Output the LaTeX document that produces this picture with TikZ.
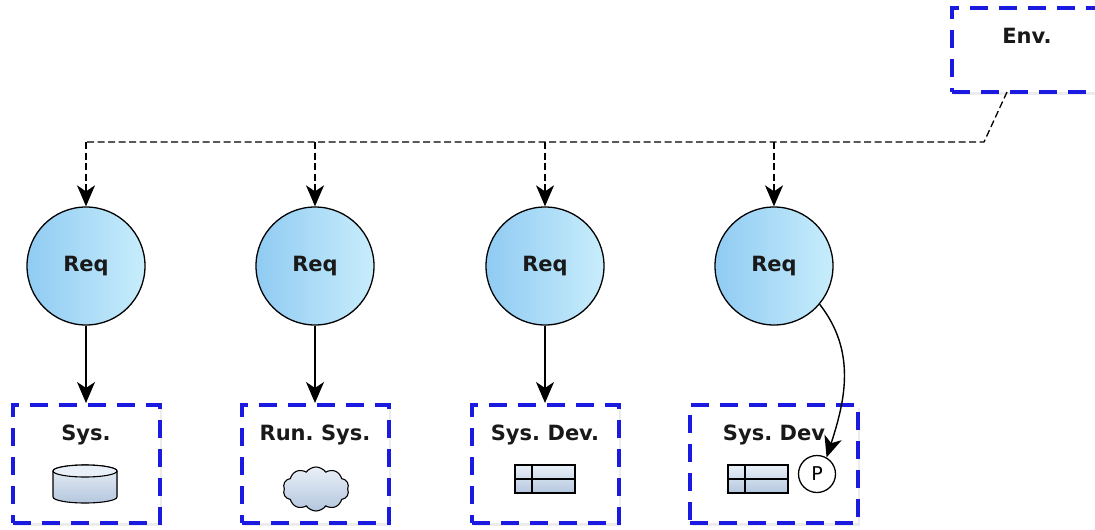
\documentclass[tikz,border=0pt]{standalone}
\usepackage{fontspec}
\setsansfont{DejaVu Sans}
\usetikzlibrary{arrows.meta,shapes.symbols,shadows}
\definecolor{boxblue}{HTML}{1A1AE0}
\definecolor{reqleft}{HTML}{90CBF2}
\definecolor{reqright}{HTML}{C8EDFC}
\definecolor{iconlo}{HTML}{B4C6DE}
\definecolor{iconhi}{HTML}{EAF0F8}
\tikzset{
  req/.style={circle,draw,line width=1.3pt,minimum size=118pt,left color=reqleft,right color=reqright,
    font=\sffamily\bfseries\fontsize{21}{24}\selectfont,text=black!90},
  sysbox/.style={draw=boxblue,line width=4pt,dash pattern=on 18pt off 11pt,fill=white,minimum height=118pt,
    drop shadow={opacity=.15,shadow xshift=2pt,shadow yshift=-3pt}},
  boxtitle/.style={font=\sffamily\bfseries\fontsize{21}{24}\selectfont,text=black!90,
    execute at begin node={\spaceskip=.24em\relax}},
  tip/.style={-{Stealth[length=21pt,width=18pt,inset=6pt]}},
  bus/.style={line width=1.3pt,dash pattern=on 7pt off 3.5pt},
  flow/.style={line width=1.4pt,tip},
  icon/.style={draw,line width=1.1pt,top color=iconhi,bottom color=iconlo}
}
\begin{document}
\begin{tikzpicture}[x=1pt,y=-1pt]
\useasboundingbox (0,0) rectangle (1095,530);
% environment
\node[sysbox,minimum width=150pt,minimum height=84pt] (env) at (1027,50) {};
\node[boxtitle] (envt) at (1027,36) {Env.};
\coordinate (envfoot) at (1007,92);
\coordinate (busend) at (984,142);
% requirements and their systems
\foreach \n/\x/\w/\t in {1/86/147/Sys., 2/315/147/Run. Sys., 3/545/147/Sys. Dev., 4/774/168/Sys. Dev}{
  \node[req] (req\n) at (\x,266) {Req};
  \node[sysbox,minimum width=\w pt] (sys\n) at (\x,464) {};
  \node[boxtitle] (syst\n) at (\x,435) {\t};
  \draw[bus,tip] (req\n |- busend) -- (req\n);
}
\draw[bus] (envfoot) -- (busend) -- (req1 |- busend);
\foreach \n in {1,2,3}
  \draw[flow] (req\n) -- (sys\n);
% icons
\filldraw[icon] (53,471) -- (53,497) arc[start angle=180,end angle=360,x radius=32pt,y radius=6pt]
  -- (117,471) arc[start angle=0,end angle=180,x radius=32pt,y radius=6pt] -- cycle;
\draw[line width=1.1pt,fill=iconhi] (85,471) ellipse[x radius=32pt,y radius=6pt];
\node[cloud,cloud puffs=10,cloud puff arc=110,aspect=1.6,icon,minimum width=66pt,minimum height=44pt,inner sep=0pt] (cloud) at (316,489) {};
\foreach \x in {545,758}{
  \filldraw[icon] (\x-30,465) rectangle (\x+30,493);
  \draw[line width=1.1pt] (\x-13,465) -- (\x-13,493) (\x-30,479) -- (\x+30,479);
}
\node[circle,draw,line width=1.3pt,minimum size=37pt,inner sep=0pt,font=\sffamily\fontsize{19}{20}\selectfont] (pin) at (817,474) {P};
\draw[flow] (req4.-40) to[out=-52,in=72] (pin.60);
\end{tikzpicture}
\end{document}
